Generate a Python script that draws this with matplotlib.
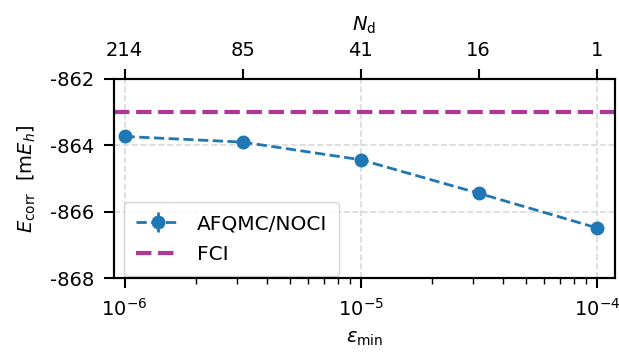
import matplotlib
matplotlib.use("Agg")
import matplotlib.pyplot as plt
import numpy as np

eps_min = [1e-6, 10**-5.5, 1e-5, 10**-4.5, 1e-4]
e_corr = [-863.73, -863.90, -864.43, -865.44, -866.48]
e_err = [0.03, 0.03, 0.03, 0.03, 0.03]
n_d = ["214", "85", "41", "16", "1"]
fci = -863.0
yticks = [-868, -866, -864, -862]

plt.rcParams['font.size'] = 14
plt.rcParams['axes.unicode_minus'] = False

fig = plt.figure(figsize=(6.19, 3.56), dpi=100)
ax = fig.add_axes([0.1842, 0.2183, 0.8093, 0.5598])

eb = ax.errorbar(eps_min, e_corr, yerr=e_err, fmt='o--', color='#1f77b4', lw=2.0,
                 ms=9, label='AFQMC/NOCI')
fl = ax.axhline(fci, color='#b0369a', lw=3, ls='--', label='FCI')

ax.set_xscale('log')
ax.set_xlim(10**-6.0445, 10**-3.9225)
ax.set_ylim(-868, -862)
ax.set_yticks(yticks)
ax.set_yticklabels([str(v) for v in yticks])
ax.grid(True, which='major', ls='--', color='#d9d9d9', lw=1.2)
ax.set_xlabel(r'$\varepsilon_\mathrm{min}$', labelpad=7)
ax.set_ylabel(r'$E_\mathrm{corr}$  [m$E_h$]', labelpad=9)
for s in ax.spines.values():
    s.set_linewidth(1.5)
ax.tick_params(which='major', width=1.5, length=7, pad=7)
ax.tick_params(which='minor', width=1.0, length=4)

leg = ax.legend([eb, fl], ['AFQMC/NOCI', 'FCI'], loc='lower left',
                bbox_to_anchor=(0.02, 0.01), borderaxespad=0,
                fontsize=14.5, framealpha=0.8, borderpad=0.6,
                labelspacing=0.6, handlelength=2.2)

ax2 = ax.twiny()
ax2.set_xscale('log')
ax2.set_xlim(ax.get_xlim())
ax2.set_xticks(eps_min)
ax2.set_xticklabels(n_d)
ax2.minorticks_off()
ax2.set_xlabel(r'$N_\mathrm{d}$', labelpad=7)
ax2.tick_params(which='major', width=1.5, length=7, pad=7)
for s in ax2.spines.values():
    s.set_linewidth(1.5)

fig.savefig('out.png', dpi=100)
